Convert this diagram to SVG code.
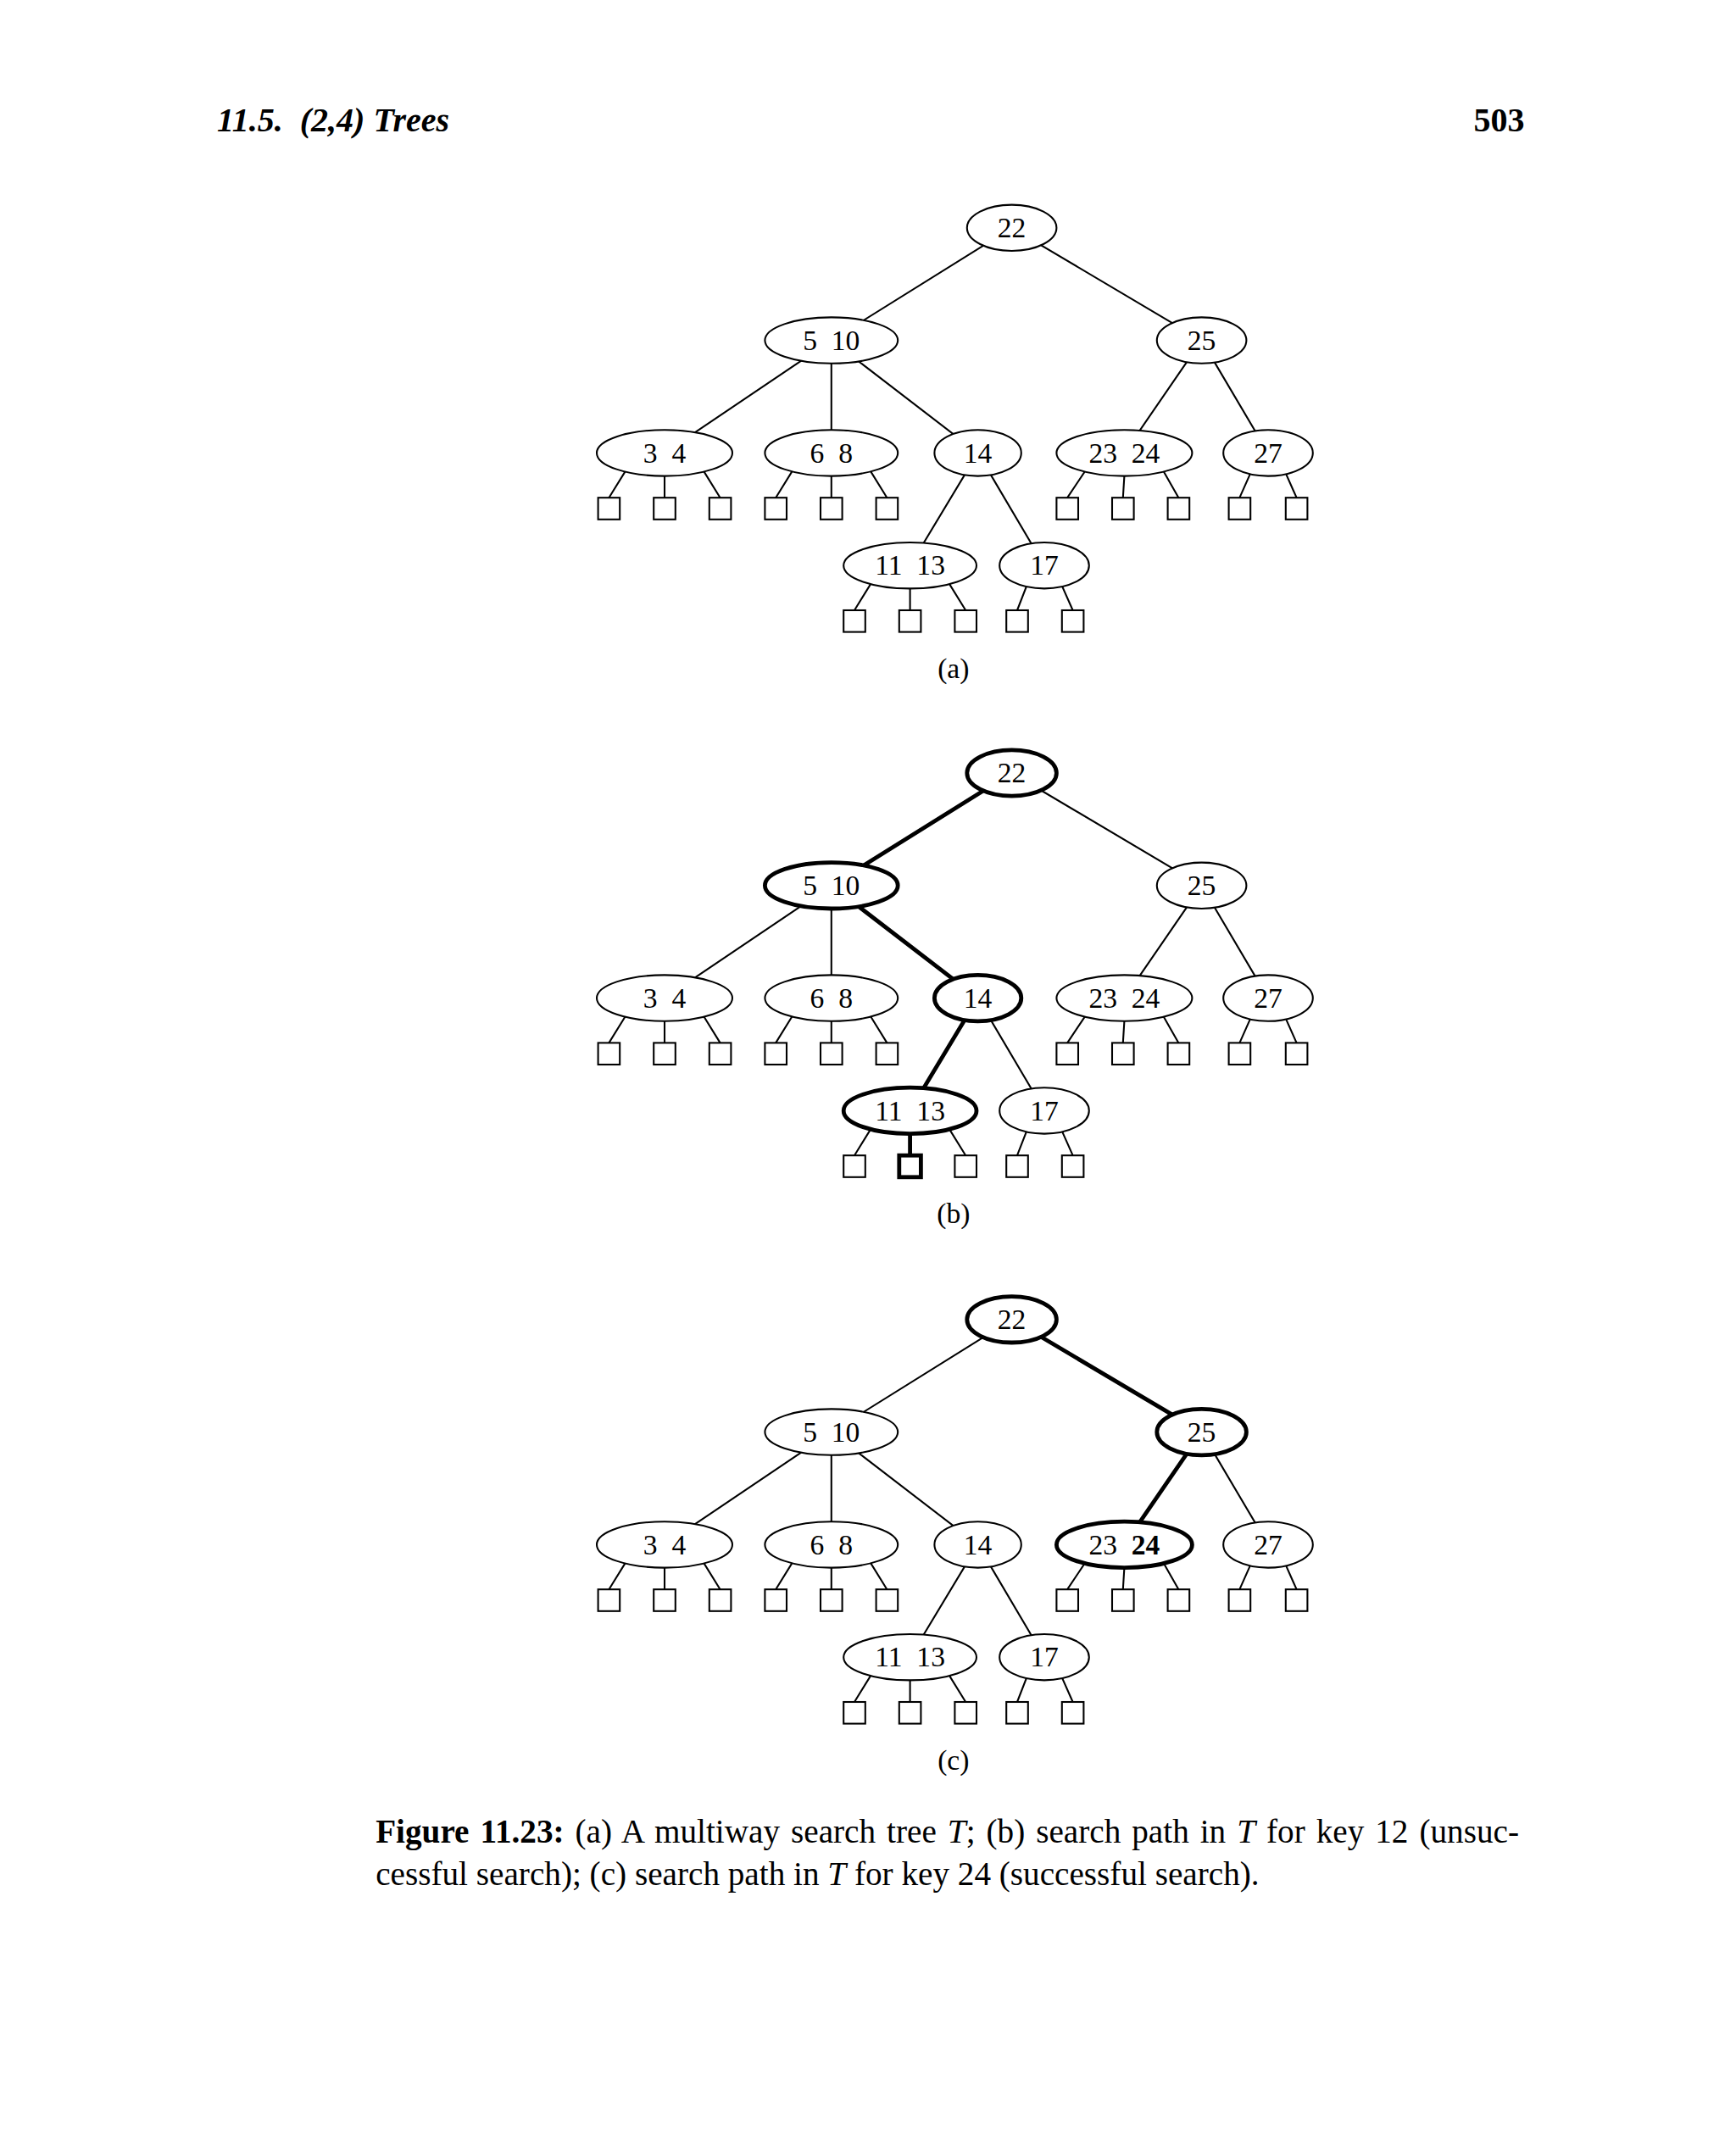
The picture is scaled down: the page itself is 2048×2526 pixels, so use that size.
<svg xmlns="http://www.w3.org/2000/svg" width="2048" height="2526" viewBox="0 0 2048 2526">
<style>
.e{fill:#fff;stroke:#000;stroke-width:1.3}
.E{fill:#fff;stroke:#000;stroke-width:3}
.b{fill:#fff;stroke:#000;stroke-width:1.3}
.B{fill:#fff;stroke:#000;stroke-width:3}
.l{stroke:#000;stroke-width:1.3;fill:none}
.L{stroke:#000;stroke-width:3;fill:none}
.t{font-family:"Liberation Serif",serif;font-size:21px;text-anchor:middle;white-space:pre}
.c{font-family:"Liberation Serif",serif;font-size:24.5px}
</style>
<rect width="2048" height="2526" fill="#fff"/>
<g transform="scale(1.6)">
<text x="160" y="97" style="font-family:'Liberation Serif',serif;font-size:25px;font-weight:bold;font-style:italic;white-space:pre">11.5.  (2,4) Trees</text>
<text x="1124" y="97" text-anchor="end" style="font-family:'Liberation Serif',serif;font-size:25px;font-weight:bold">503</text>

<!-- Tree (a) -->
<g id="treeA">
<g id="a-edges">
<path class="l" d="M746,168L613,251M746,168L886,251M613,251L490,334M613,251L613,334M613,251L721,334M886,251L829,334M886,251L935,334M721,334L671,417M721,334L770,417"/>
<path class="l" d="M462,346L449,367M490,351L490,367M518,346L531,367M585,346L572,367M613,351L613,367M641,346L654,367M801,346L787,367M829,351L828,367M857,346L869,367M922,349L914,367M948,349L956,367M643,429L630,450M671,434L671,450M699,429L712,450M757,432L750,450M783,432L791,450"/>
</g>
<g id="a-22"><ellipse class="e" cx="746" cy="168" rx="33" ry="17"/><text class="t" x="746" y="175">22</text></g>
<g id="a-510"><ellipse class="e" cx="613" cy="251" rx="49" ry="17"/><text class="t" x="613" y="258">5  10</text></g>
<g id="a-25"><ellipse class="e" cx="886" cy="251" rx="33" ry="17"/><text class="t" x="886" y="258">25</text></g>
<g id="a-34"><ellipse class="e" cx="490" cy="334" rx="50" ry="17"/><text class="t" x="490" y="341">3  4</text></g>
<g id="a-68"><ellipse class="e" cx="613" cy="334" rx="49" ry="17"/><text class="t" x="613" y="341">6  8</text></g>
<g id="a-14"><ellipse class="e" cx="721" cy="334" rx="32" ry="17"/><text class="t" x="721" y="341">14</text></g>
<g id="a-2324"><ellipse class="e" cx="829" cy="334" rx="50" ry="17"/><text class="t" x="829" y="341">23  24</text></g>
<g id="a-27"><ellipse class="e" cx="935" cy="334" rx="33" ry="17"/><text class="t" x="935" y="341">27</text></g>
<g id="a-1113"><ellipse class="e" cx="671" cy="417" rx="49" ry="17"/><text class="t" x="671" y="424">11  13</text></g>
<g id="a-17"><ellipse class="e" cx="770" cy="417" rx="33" ry="17"/><text class="t" x="770" y="424">17</text></g>
<g id="a-leaves">
<rect class="b" x="441" y="367" width="16" height="16"/><rect class="b" x="482" y="367" width="16" height="16"/><rect class="b" x="523" y="367" width="16" height="16"/>
<rect class="b" x="564" y="367" width="16" height="16"/><rect class="b" x="605" y="367" width="16" height="16"/><rect class="b" x="646" y="367" width="16" height="16"/>
<rect class="b" x="779" y="367" width="16" height="16"/><rect class="b" x="820" y="367" width="16" height="16"/><rect class="b" x="861" y="367" width="16" height="16"/>
<rect class="b" x="906" y="367" width="16" height="16"/><rect class="b" x="948" y="367" width="16" height="16"/>
<rect class="b" x="622" y="450" width="16" height="16"/><rect class="b" x="663" y="450" width="16" height="16"/><rect class="b" x="704" y="450" width="16" height="16"/>
<rect class="b" x="742" y="450" width="16" height="16"/><rect class="b" x="783" y="450" width="16" height="16"/>
</g>
<text class="t" x="703" y="500">(a)</text>
</g>

<!-- Tree (b) -->
<g id="treeB" transform="translate(0,402)">
<g id="b-edges">
<path class="l" d="M746,168L886,251M613,251L490,334M613,251L613,334M886,251L829,334M886,251L935,334M721,334L770,417"/>
<path class="L" d="M746,168L613,251M613,251L721,334M721,334L671,417M671,434L671,450"/>
<path class="l" d="M462,346L449,367M490,351L490,367M518,346L531,367M585,346L572,367M613,351L613,367M641,346L654,367M801,346L787,367M829,351L828,367M857,346L869,367M922,349L914,367M948,349L956,367M643,429L630,450M699,429L712,450M757,432L750,450M783,432L791,450"/>
</g>
<g id="b-22"><ellipse class="E" cx="746" cy="168" rx="33" ry="17"/><text class="t" x="746" y="175">22</text></g>
<g id="b-510"><ellipse class="E" cx="613" cy="251" rx="49" ry="17"/><text class="t" x="613" y="258">5  10</text></g>
<g id="b-25"><ellipse class="e" cx="886" cy="251" rx="33" ry="17"/><text class="t" x="886" y="258">25</text></g>
<g id="b-34"><ellipse class="e" cx="490" cy="334" rx="50" ry="17"/><text class="t" x="490" y="341">3  4</text></g>
<g id="b-68"><ellipse class="e" cx="613" cy="334" rx="49" ry="17"/><text class="t" x="613" y="341">6  8</text></g>
<g id="b-14"><ellipse class="E" cx="721" cy="334" rx="32" ry="17"/><text class="t" x="721" y="341">14</text></g>
<g id="b-2324"><ellipse class="e" cx="829" cy="334" rx="50" ry="17"/><text class="t" x="829" y="341">23  24</text></g>
<g id="b-27"><ellipse class="e" cx="935" cy="334" rx="33" ry="17"/><text class="t" x="935" y="341">27</text></g>
<g id="b-1113"><ellipse class="E" cx="671" cy="417" rx="49" ry="17"/><text class="t" x="671" y="424">11  13</text></g>
<g id="b-17"><ellipse class="e" cx="770" cy="417" rx="33" ry="17"/><text class="t" x="770" y="424">17</text></g>
<g id="b-leaves">
<rect class="b" x="441" y="367" width="16" height="16"/><rect class="b" x="482" y="367" width="16" height="16"/><rect class="b" x="523" y="367" width="16" height="16"/>
<rect class="b" x="564" y="367" width="16" height="16"/><rect class="b" x="605" y="367" width="16" height="16"/><rect class="b" x="646" y="367" width="16" height="16"/>
<rect class="b" x="779" y="367" width="16" height="16"/><rect class="b" x="820" y="367" width="16" height="16"/><rect class="b" x="861" y="367" width="16" height="16"/>
<rect class="b" x="906" y="367" width="16" height="16"/><rect class="b" x="948" y="367" width="16" height="16"/>
<rect class="b" x="622" y="450" width="16" height="16"/><rect class="B" x="663" y="450" width="16" height="16"/><rect class="b" x="704" y="450" width="16" height="16"/>
<rect class="b" x="742" y="450" width="16" height="16"/><rect class="b" x="783" y="450" width="16" height="16"/>
</g>
<text class="t" x="703" y="500">(b)</text>
</g>

<!-- Tree (c) -->
<g id="treeC" transform="translate(0,805)">
<g id="c-edges">
<path class="l" d="M746,168L613,251M613,251L490,334M613,251L613,334M613,251L721,334M886,251L935,334M721,334L671,417M721,334L770,417"/>
<path class="L" d="M746,168L886,251M886,251L829,334"/>
<path class="l" d="M462,346L449,367M490,351L490,367M518,346L531,367M585,346L572,367M613,351L613,367M641,346L654,367M801,346L787,367M829,351L828,367M857,346L869,367M922,349L914,367M948,349L956,367M643,429L630,450M671,434L671,450M699,429L712,450M757,432L750,450M783,432L791,450"/>
</g>
<g id="c-22"><ellipse class="E" cx="746" cy="168" rx="33" ry="17"/><text class="t" x="746" y="175">22</text></g>
<g id="c-510"><ellipse class="e" cx="613" cy="251" rx="49" ry="17"/><text class="t" x="613" y="258">5  10</text></g>
<g id="c-25"><ellipse class="E" cx="886" cy="251" rx="33" ry="17"/><text class="t" x="886" y="258">25</text></g>
<g id="c-34"><ellipse class="e" cx="490" cy="334" rx="50" ry="17"/><text class="t" x="490" y="341">3  4</text></g>
<g id="c-68"><ellipse class="e" cx="613" cy="334" rx="49" ry="17"/><text class="t" x="613" y="341">6  8</text></g>
<g id="c-14"><ellipse class="e" cx="721" cy="334" rx="32" ry="17"/><text class="t" x="721" y="341">14</text></g>
<g id="c-2324"><ellipse class="E" cx="829" cy="334" rx="50" ry="17"/><text class="t" x="829" y="341">23  <tspan font-weight="bold">24</tspan></text></g>
<g id="c-27"><ellipse class="e" cx="935" cy="334" rx="33" ry="17"/><text class="t" x="935" y="341">27</text></g>
<g id="c-1113"><ellipse class="e" cx="671" cy="417" rx="49" ry="17"/><text class="t" x="671" y="424">11  13</text></g>
<g id="c-17"><ellipse class="e" cx="770" cy="417" rx="33" ry="17"/><text class="t" x="770" y="424">17</text></g>
<g id="c-leaves">
<rect class="b" x="441" y="367" width="16" height="16"/><rect class="b" x="482" y="367" width="16" height="16"/><rect class="b" x="523" y="367" width="16" height="16"/>
<rect class="b" x="564" y="367" width="16" height="16"/><rect class="b" x="605" y="367" width="16" height="16"/><rect class="b" x="646" y="367" width="16" height="16"/>
<rect class="b" x="779" y="367" width="16" height="16"/><rect class="b" x="820" y="367" width="16" height="16"/><rect class="b" x="861" y="367" width="16" height="16"/>
<rect class="b" x="906" y="367" width="16" height="16"/><rect class="b" x="948" y="367" width="16" height="16"/>
<rect class="b" x="622" y="450" width="16" height="16"/><rect class="b" x="663" y="450" width="16" height="16"/><rect class="b" x="704" y="450" width="16" height="16"/>
<rect class="b" x="742" y="450" width="16" height="16"/><rect class="b" x="783" y="450" width="16" height="16"/>
</g>
<text class="t" x="703" y="500">(c)</text>
</g>

<text class="c" x="277" y="1359" style="word-spacing:2px"><tspan font-weight="bold">Figure 11.23:</tspan> (a) A multiway search tree <tspan font-style="italic">T</tspan>; (b) search path in <tspan font-style="italic">T</tspan> for key 12 (unsuc-</text>
<text class="c" x="277" y="1390">cessful search); (c) search path in <tspan font-style="italic">T</tspan> for key 24 (successful search).</text>
</g>
</svg>
